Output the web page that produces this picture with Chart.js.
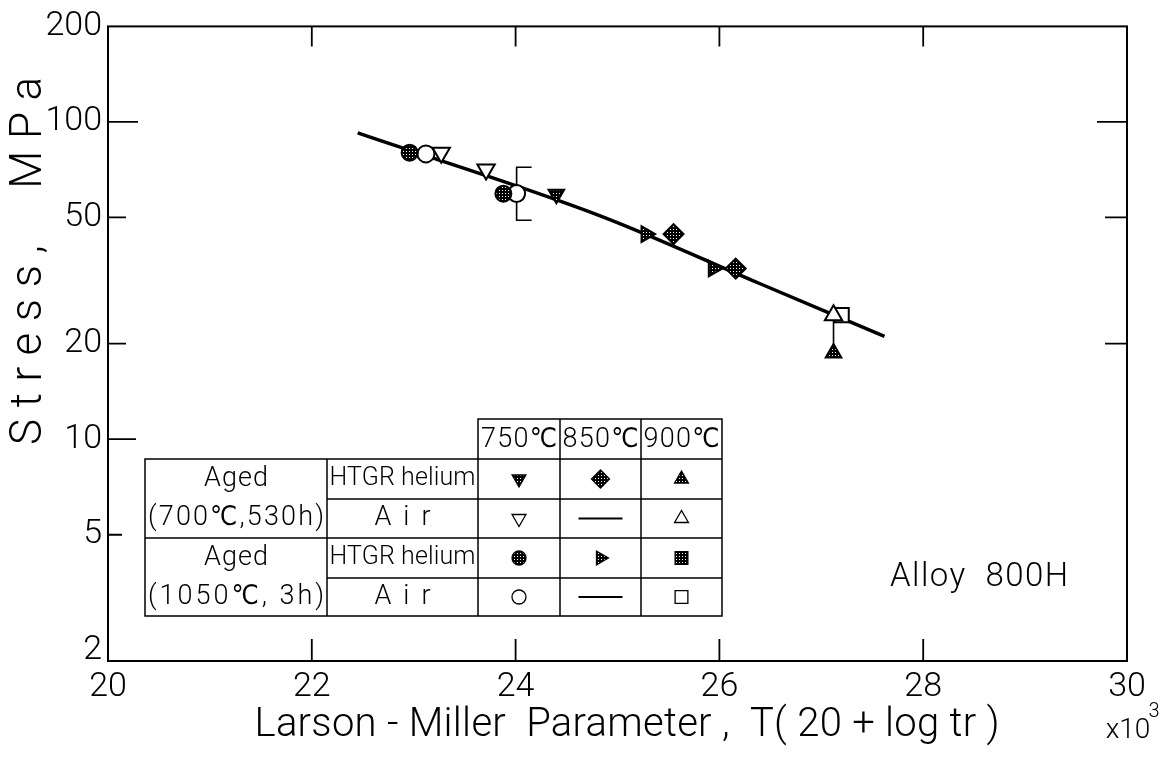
<!DOCTYPE html>
<html>
<head>
<meta charset="utf-8">
<script src="https://cdn.jsdelivr.net/npm/chart.js@4.4.1/dist/chart.umd.min.js"></script>
<style>
  html, body { margin: 0; padding: 0; background: #fff; }
  #wrap { width: 1176px; height: 760px; position: relative; }
</style>
</head>
<body>
<div id="wrap"><canvas id="myChart"></canvas></div>
<script>
// Larson-Miller parameter (x10^3) vs stress (MPa)
var xTicks = [20, 22, 24, 26, 28, 30];
var yTicks = [2, 5, 10, 20, 50, 100, 200];

// master curve
var fitLmp = [22.45, 24.83, 26.4, 27.62];
var fitStress = [92.3, 50.6, 30.9, 21.1];

// aged 700C 530h
var hel700at750Lmp = [24.40];
var hel700at750Stress = [59.2];
var air700at750Lmp = [23.27, 23.71];
var air700at750Stress = [80, 70.8];
var hel700at850Lmp = [25.55, 26.16];
var hel700at850Stress = [44.3, 34.5];
var hel700at900Lmp = [27.12];
var hel700at900Stress = [18.7];
var air700at900Lmp = [27.12];
var air700at900Stress = [24.6];

// aged 1050C 3h
var hel1050at750Lmp = [22.96, 23.88];
var hel1050at750Stress = [80, 59.4];
var air1050at750Lmp = [23.12, 24.01];
var air1050at750Stress = [79.3, 59.5];
var hel1050at850Lmp = [25.28, 25.94];
var hel1050at850Stress = [44.3, 34.5];
var air1050at900Lmp = [27.20];
var air1050at900Stress = [24.6];

// scatter band on the 1050C air point at 24.0
var bandLmp = [24.01];
var bandHigh = [72];
var bandLow = [49];

var FONT = "Roboto, 'DejaVu Sans Condensed', 'DejaVu Sans', sans-serif";
var W = 300;

var ctx = document.getElementById("myChart").getContext("2d");

// dotted screen used for the filled symbols
function dotPattern() {
  var c = document.createElement("canvas");
  c.width = 3;
  c.height = 3;
  var g = c.getContext("2d");
  g.fillStyle = "#000";
  g.fillRect(0, 0, 3, 3);
  g.fillStyle = "#fff";
  g.fillRect(1, 1, 1, 1);
  return ctx.createPattern(c, "repeat");
}
var dots = dotPattern();

function pts(xs, ys) {
  return xs.map(function (x, i) {
    return { x: x, y: ys[i] };
  });
}

function marker(label, xs, ys, style, rot, filled, r) {
  return {
    type: "scatter",
    label: label,
    data: pts(xs, ys),
    pointStyle: style,
    pointRotation: rot,
    pointRadius: r,
    pointHoverRadius: r,
    pointBackgroundColor: filled ? dots : "#fff",
    pointBorderColor: "#000",
    pointBorderWidth: 2,
    order: 0,
  };
}

function drawText(c, s, x, y, size, width, align) {
  align = align || "center";
  c.font = W + " " + size + "px " + FONT;
  c.letterSpacing = "0px";
  var sp = 0;
  if (width) {
    var w = c.measureText(s).width;
    sp = (width - w) / Math.max(1, s.length - 1);
    c.letterSpacing = sp + "px";
  }
  c.textAlign = align;
  c.textBaseline = "middle";
  c.fillText(s, align === "center" ? x + sp / 2 : x, y);
  c.letterSpacing = "0px";
}

function symbol(c, style, rot, r, filled, x, y) {
  c.fillStyle = filled ? dots : "#fff";
  c.strokeStyle = "#000";
  c.lineWidth = 1.3;
  Chart.helpers.drawPoint(c, { pointStyle: style, rotation: rot, radius: r, borderWidth: 1.3 }, x, y);
}

var framePlugin = {
  id: "frame",
  beforeDatasetsDraw: function (chart) {
    var c = chart.ctx, a = chart.chartArea;
    var xs = chart.scales.x, ys = chart.scales.y;
    c.save();
    c.strokeStyle = "#000";
    c.lineWidth = 2;
    c.strokeRect(a.left, a.top, a.right - a.left, a.bottom - a.top);

    // ticks point inward
    c.lineWidth = 1.8;
    c.beginPath();
    [[100, 30], [50, 18], [20, 18], [10, 28], [5, 14]].forEach(function (t) {
      var py = ys.getPixelForValue(t[0]);
      c.moveTo(a.left, py);
      c.lineTo(a.left + t[1], py);
    });
    [[100, 30], [50, 22], [20, 22]].forEach(function (t) {
      var py = ys.getPixelForValue(t[0]);
      c.moveTo(a.right, py);
      c.lineTo(a.right - t[1], py);
    });
    [22, 24, 26, 28].forEach(function (v) {
      var px = xs.getPixelForValue(v);
      c.moveTo(px, a.bottom);
      c.lineTo(px, a.bottom - 22);
      c.moveTo(px, a.top);
      c.lineTo(px, a.top + 20);
    });
    c.stroke();

    // bracket showing the scatter band
    c.lineWidth = 1.6;
    c.beginPath();
    bandLmp.forEach(function (v, i) {
      var px = xs.getPixelForValue(v);
      var ph = ys.getPixelForValue(bandHigh[i]);
      var pl = ys.getPixelForValue(bandLow[i]);
      c.moveTo(px + 15, ph);
      c.lineTo(px, ph);
      c.lineTo(px, pl);
      c.lineTo(px + 15, pl);
    });
    c.stroke();
    c.restore();
  },
  afterDatasetsDraw: function (chart) {
    var c = chart.ctx;
    c.save();
    c.fillStyle = "#000";
    c.strokeStyle = "#000";
    c.lineWidth = 1.5;

    // legend table
    var L = 145, c2 = 327, c3 = 478, c4 = 560, c5 = 641, R = 722;
    var hT = 419, T = 459, r1 = 499, r2 = 538, r3 = 578, B = 616;
    c.beginPath();
    c.rect(c3, hT, R - c3, T - hT);
    c.rect(L, T, R - L, B - T);
    c.moveTo(c4, hT); c.lineTo(c4, B);
    c.moveTo(c5, hT); c.lineTo(c5, B);
    c.moveTo(c2, T); c.lineTo(c2, B);
    c.moveTo(c3, T); c.lineTo(c3, B);
    c.moveTo(L, r2); c.lineTo(R, r2);
    c.moveTo(c2, r1); c.lineTo(R, r1);
    c.moveTo(c2, r3); c.lineTo(R, r3);
    c.stroke();

    var mx3 = (c3 + c4) / 2, mx4 = (c4 + c5) / 2, mx5 = (c5 + R) / 2;
    var y1 = (T + r1) / 2, y2 = (r1 + r2) / 2, y3 = (r2 + r3) / 2, y4 = (r3 + B) / 2;
    c.fillStyle = "#000";
    drawText(c, "750℃", mx3, (hT + T) / 2 + 1, 27, 76);
    drawText(c, "850℃", mx4, (hT + T) / 2 + 1, 27, 76);
    drawText(c, "900℃", mx5, (hT + T) / 2 + 1, 27, 76);
    drawText(c, "Aged", (L + c2) / 2, y1, 27, 64);
    drawText(c, "(700℃,530h)", (L + c2) / 2, y2, 27, 176);
    drawText(c, "Aged", (L + c2) / 2, y3, 27, 64);
    drawText(c, "(1050℃, 3h)", (L + c2) / 2, y4, 27, 176);
    drawText(c, "HTGR helium", (c2 + c3) / 2, y1, 25, 146);
    drawText(c, "Air", (c2 + c3) / 2, y2, 27, 56);
    drawText(c, "HTGR helium", (c2 + c3) / 2, y3, 25, 146);
    drawText(c, "Air", (c2 + c3) / 2, y4, 27, 56);

    symbol(c, "triangle", 180, 8, true, mx3, y1);
    symbol(c, "rectRot", 0, 9, true, mx4, y1);
    symbol(c, "triangle", 0, 8, true, mx5, y1);
    symbol(c, "triangle", 180, 8, false, mx3, y2);
    symbol(c, "triangle", 0, 8, false, mx5, y2);
    symbol(c, "circle", 0, 7, true, mx3, y3);
    symbol(c, "triangle", 90, 8, true, mx4, y3);
    symbol(c, "rect", 0, 9, true, mx5, y3);
    symbol(c, "circle", 0, 7, false, mx3, y4);
    symbol(c, "rect", 0, 9, false, mx5, y4);
    c.lineWidth = 2;
    c.beginPath();
    c.moveTo(mx4 - 22, y2); c.lineTo(mx4 + 22, y2);
    c.moveTo(mx4 - 22, y4); c.lineTo(mx4 + 22, y4);
    c.stroke();

    c.fillStyle = "#000";
    drawText(c, "Alloy  800H", 979, 578, 33, 178);
    c.restore();
  },
  afterDraw: function (chart) {
    var c = chart.ctx;
    c.save();
    c.fillStyle = "#000";
    drawText(c, "Larson - Miller  Parameter ,  T( 20 + log tr )", 627, 726, 40, 745);
    drawText(c, "x10", 1128, 731, 28);
    drawText(c, "3", 1154, 712, 20);
    c.translate(30, 261);
    c.rotate(-Math.PI / 2);
    drawText(c, "Stress,  MPa", 0, 0, 44, 368);
    c.restore();
  },
};

function tickFont(c) {
  // the bottom "2" sits a little above the axis line
  var low = c.tick && c.tick.value === 2;
  return { family: FONT, size: 34, weight: W, lineHeight: low ? 0.6 : 1.2 };
}

var chart = new Chart(ctx, {
  data: {
    datasets: [
      marker("Aged 700C HTGR helium 750C", hel700at750Lmp, hel700at750Stress, "triangle", 180, true, 9),
      marker("Aged 700C Air 750C", air700at750Lmp, air700at750Stress, "triangle", 180, false, 10),
      marker("Aged 700C HTGR helium 850C", hel700at850Lmp, hel700at850Stress, "rectRot", 0, true, 10),
      marker("Aged 700C HTGR helium 900C", hel700at900Lmp, hel700at900Stress, "triangle", 0, true, 9),
      marker("Aged 700C Air 900C", air700at900Lmp, air700at900Stress, "triangle", 0, false, 10),
      marker("Aged 1050C HTGR helium 750C", hel1050at750Lmp, hel1050at750Stress, "circle", 0, true, 8),
      marker("Aged 1050C Air 750C", air1050at750Lmp, air1050at750Stress, "circle", 0, false, 8.5),
      marker("Aged 1050C HTGR helium 850C", hel1050at850Lmp, hel1050at850Stress, "triangle", 90, true, 9),
      marker("Aged 1050C Air 900C", air1050at900Lmp, air1050at900Stress, "rect", 0, false, 10),
      {
        type: "line",
        label: "900C pair",
        data: pts(air700at900Lmp.concat(hel700at900Lmp), air700at900Stress.concat(hel700at900Stress)),
        borderColor: "#000",
        borderWidth: 1.6,
        pointRadius: 0,
        order: 5,
      },
      {
        type: "line",
        label: "Master curve",
        data: pts(fitLmp, fitStress),
        borderColor: "#000",
        borderWidth: 3.5,
        pointRadius: 0,
        cubicInterpolationMode: "monotone",
        order: 10,
      },
    ],
  },
  options: {
    responsive: true,
    maintainAspectRatio: false,
    animation: false,
    events: [],
    layout: { padding: { left: 0, right: 49, top: 21, bottom: 0 } },
    plugins: {
      legend: { display: false },
      tooltip: { enabled: false },
    },
    scales: {
      x: {
        type: "linear",
        position: "bottom",
        min: 20,
        max: 30,
        afterBuildTicks: function (s) {
          s.ticks = xTicks.map(function (v) { return { value: v }; });
        },
        afterFit: function (s) { s.height = 99; },
        grid: { display: false, drawTicks: false },
        border: { display: false },
        ticks: {
          font: { family: FONT, size: 34, weight: W },
          color: "#000",
          padding: 6,
          maxRotation: 0,
          autoSkip: false,
        },
      },
      y: {
        type: "logarithmic",
        position: "left",
        min: 2,
        max: 200,
        afterBuildTicks: function (s) {
          s.ticks = yTicks.map(function (v) { return { value: v }; });
        },
        afterFit: function (s) { s.width = 108; },
        grid: { display: false, drawTicks: false },
        border: { display: false },
        ticks: {
          font: tickFont,
          color: "#000",
          padding: 6,
          autoSkip: false,
          callback: function (v) { return v === 2 ? ["2", ""] : String(v); },
        },
      },
    },
  },
  plugins: [framePlugin],
});
</script>
</body>
</html>
